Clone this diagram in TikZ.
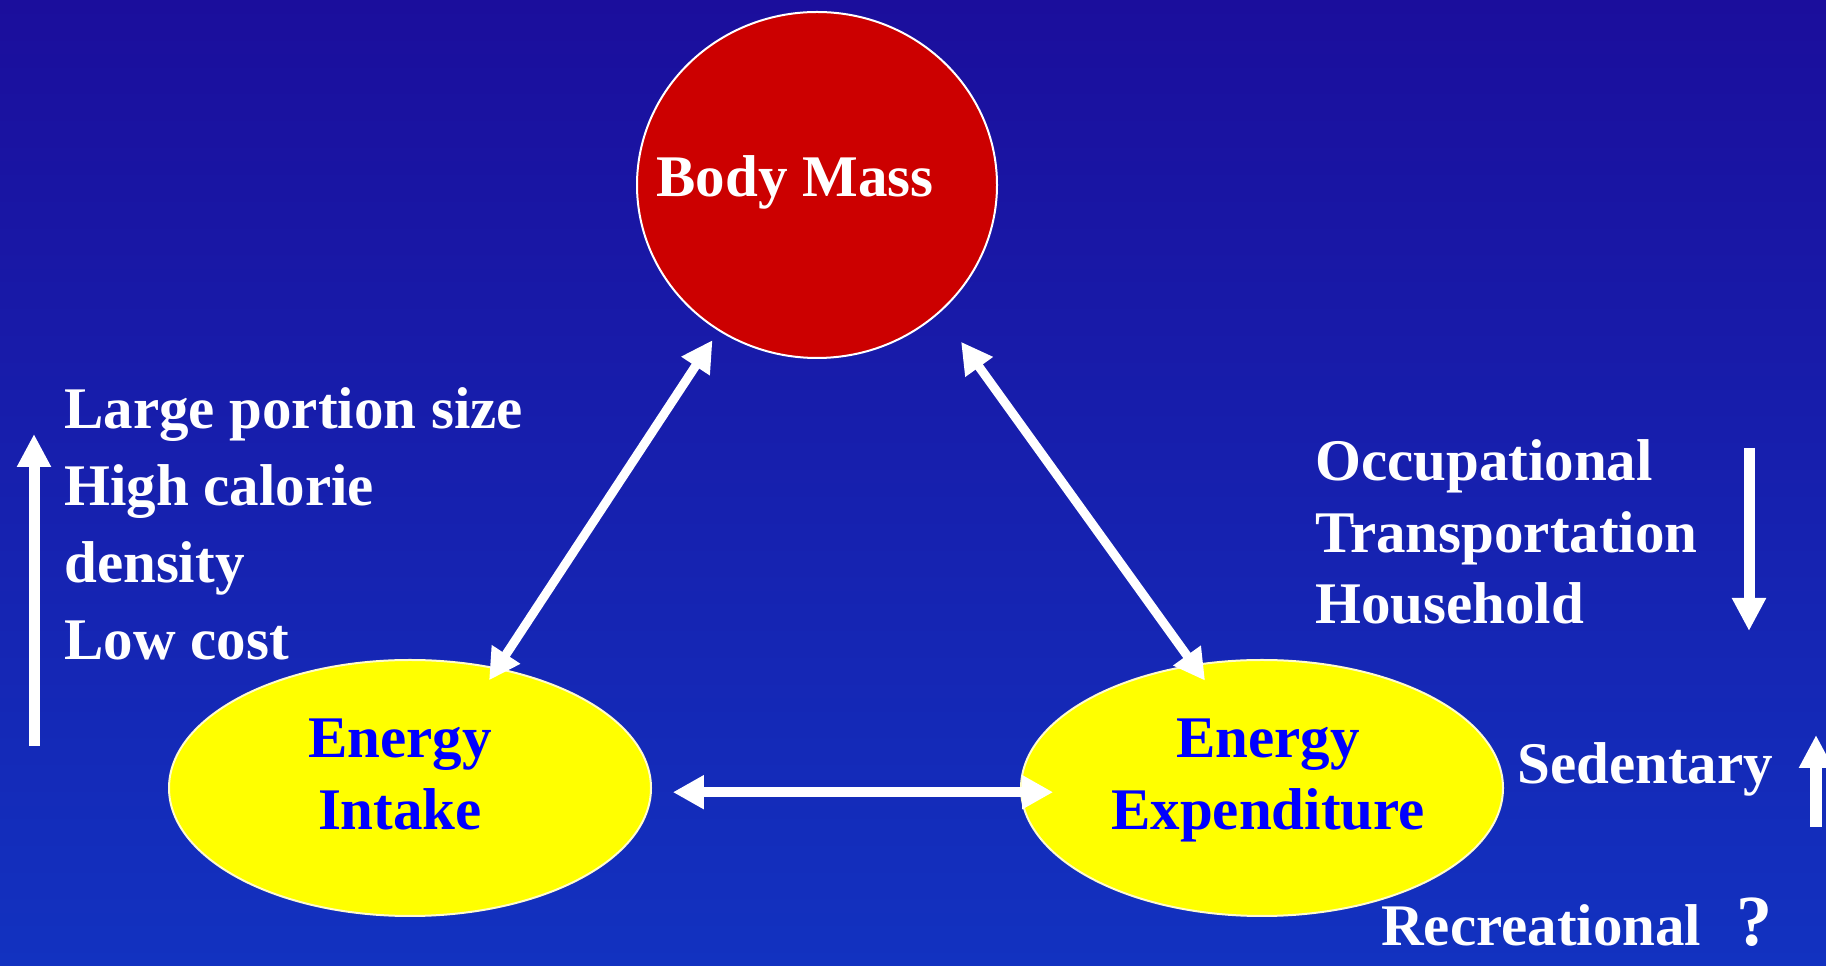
\documentclass[tikz,border=0pt]{standalone}
\usepackage{fontspec}
\setmainfont{Liberation Serif}
\usetikzlibrary{arrows.meta,shapes.geometric,calc}
\definecolor{bgtop}{RGB}{27,14,156}
\definecolor{bgbot}{RGB}{18,50,192}
\definecolor{massred}{RGB}{204,0,0}
\definecolor{energyyellow}{RGB}{255,255,0}
\definecolor{labelblue}{RGB}{0,0,255}

\begin{document}
\begin{tikzpicture}[x=1pt,y=1pt,
  big/.style={font=\fontsize{59}{72}\selectfont\bfseries},
  wtext/.style={big, text=white, inner sep=0pt},
  hub/.style={ellipse, draw=white, line width=2pt, fill=massred,
    minimum width=360pt, minimum height=346pt, inner sep=0pt, outer sep=0pt},
  energy/.style={ellipse, draw=white!80!yellow, line width=2pt, fill=energyyellow,
    minimum width=482pt, minimum height=256pt, inner sep=0pt, outer sep=0pt},
  elabel/.style={big, text=labelblue, align=center, inner sep=0pt},
  link/.style={draw=white, line width=9pt,
    {Triangle[width=32pt,length=31pt]}-{Triangle[width=32pt,length=31pt]}},
  trend/.style={draw=white, line width=11pt, -{Triangle[width=32pt,length=33pt]}},
]
% background
\shade[top color=bgtop, bottom color=bgbot] (0,0) rectangle (1826,966);
\useasboundingbox (0,0) rectangle (1826,966);

% the three quantities
\node[hub] (bm) at (817,781) {};
\node[wtext, anchor=base] (bmtext) at (795,769) {Body Mass};

\node[energy] (ei) at (410,178) {};
\node[elabel, anchor=base] (eitext) at (400,136) {Energy\\Intake};

\node[energy] (ee) at (1262,178) {};
\node[elabel, anchor=base] (eetext) at (1268,136) {Energy\\Expenditure};

% two-way links
\draw[link, shorten <=12pt, shorten >=-14pt] (bm.-124.1) -- (ei.54.5);
\draw[link, shorten <=37pt, shorten >=-19pt] (bm.-46) -- (ee.119.1);
\draw[link, line width=10pt, shorten <=22pt, shorten >=-32pt] (ei.-1) -- (ee.181);

% intake drivers (anchored at the baseline of the last line)
\node[wtext, align=left, anchor=base west, font=\fontsize{59}{77}\selectfont\bfseries]
  (intake) at (64,306) {Large portion size\\High calorie\\density\\Low cost};
\coordinate (inA) at (34,220);
\coordinate (inB) at (34,532);
\draw[trend] (inA) -- (inB);

% expenditure drivers (anchored at the baseline of the last line)
\node[wtext, align=left, anchor=base west, font=\fontsize{59}{71.5}\selectfont\bfseries]
  (work) at (1315,342) {Occupational\\Transportation\\Household};
\coordinate (dnA) at (1749,518);
\coordinate (dnB) at (1749,335);
\draw[trend] (dnA) -- (dnB);

\node[wtext, anchor=base west] (sed) at (1517,182) {Sedentary};
\coordinate (upA) at (1816,139);
\coordinate (upB) at (1816,231);
\draw[trend, line width=12pt] (upA) -- (upB);

\node[wtext, anchor=base west] (rec) at (1381,20) {Recreational};
\node[wtext, anchor=base west, font=\fontsize{72}{80}\selectfont\bfseries] (q) at (1736,20) {?};
\end{tikzpicture}
\end{document}
